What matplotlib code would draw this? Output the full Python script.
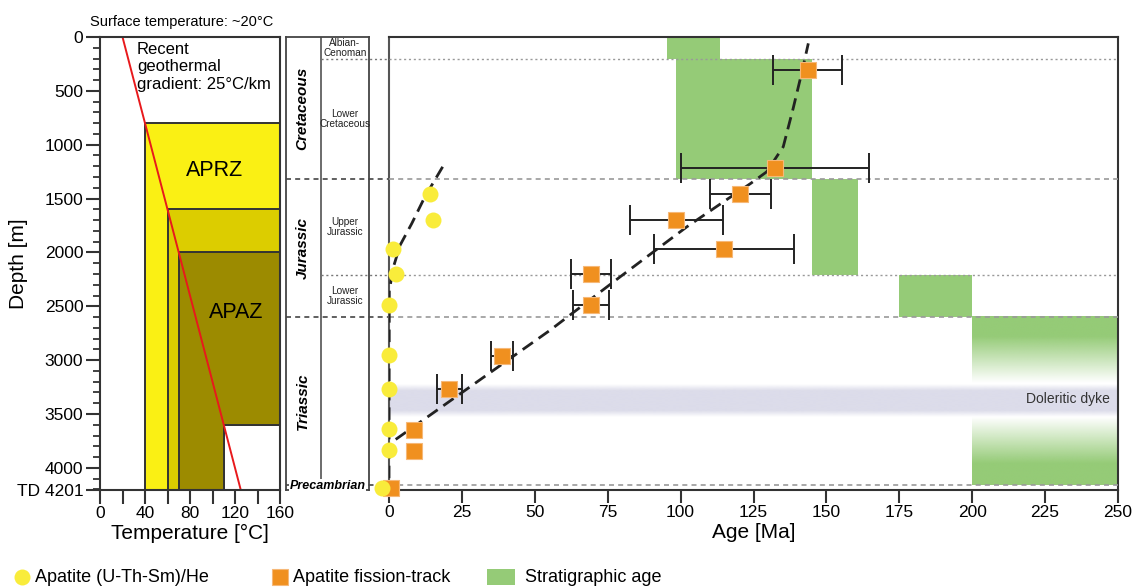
import numpy as np
import matplotlib
matplotlib.use("Agg")
import matplotlib.pyplot as plt
from matplotlib.patches import Polygon, Rectangle
from matplotlib.lines import Line2D

plt.rcParams['font.family'] = ['Liberation Sans', 'DejaVu Sans']

# geothermal gradient
surface_temp = 20
gradient = 25  # degC / km
td_depth = 4201

# annealing / retention zones (temperature, depth outlines)
aprz_temp = [40, 160, 160, 110, 110, 40]
aprz_depth = [800, 800, 3600, 3600, 4201, 4201]
mid_temp = [60, 160, 160, 110, 110, 60]
mid_depth = [1600, 1600, 3600, 3600, 4201, 4201]
apaz_temp = [70, 160, 160, 110, 110, 70]
apaz_depth = [2000, 2000, 3600, 3600, 4201, 4201]

# apatite (U-Th-Sm)/He
ahe_age = [14.1, 15.2, 1.3, 2.4, 0.0, 0.0, 0.0, 0.0, 0.0, -2.5]
ahe_depth = [1462, 1700, 1964, 2200, 2490, 2955, 3271, 3643, 3832, 4188]

# apatite fission track (last three have no error bars)
aft_age = [143.6, 132.4, 120.4, 98.4, 115.0, 69.3, 69.3, 38.6, 20.6, 8.7, 8.7, 0.6]
aft_depth = [307, 1215, 1459, 1701, 1964, 2203, 2490, 2962, 3271, 3646, 3845, 4188]
aft_min = [131.8, 100.1, 110.1, 82.6, 90.9, 62.4, 63.0, 35.0, 16.4]
aft_max = [155.5, 164.6, 130.9, 114.4, 139.0, 76.0, 75.4, 42.4, 24.9]

# trend lines
ahe_trend_age = [18.4, 12.3, 7.8, 3.8, 1.7, 0.1, 0.0]
ahe_trend_depth = [1205, 1484, 1732, 1933, 2119, 2351, 4160]
aft_trend_age = [2.3, 55.2, 79.2, 102.1, 116.4, 124.0, 129.5, 135.2, 138.6, 141.5, 143.8]
aft_trend_depth = [3736, 2723, 2228, 1763, 1499, 1360, 1252, 1019, 663, 337, 59]

# stratigraphy
epochs = ['Albian-\nCenoman', 'Lower\nCretaceous', 'Upper\nJurassic', 'Lower\nJurassic']
epoch_top = [0, 200, 1320, 2210]
epoch_base = [200, 1320, 2210, 2600]
periods = ['Cretaceous', 'Jurassic', 'Triassic']
period_top = [0, 1320, 2600]
period_base = [1320, 2600, 4160]
strat_young = [95.5, 98.5, 145, 175]
strat_old = [113.5, 145, 161, 200]
triassic_age = [200, 250]
epoch_lines = [200, 2210]
period_lines = [1320, 2600, 4160]
dyke_top, dyke_base = 3225, 3525

dark = '#333333'
green = '#95cb77'

fig = plt.figure(figsize=(11.4, 5.88), dpi=100)
W, H = 1140, 588
bot = 1 - 489.5 / H
hgt = 452.5 / H
ax1 = fig.add_axes([100 / W, bot, 180 / W, hgt])
ax2 = fig.add_axes([286 / W, bot, 83 / W, hgt])
ax3 = fig.add_axes([389 / W, bot, 729 / W, hgt])

# ---- temperature panel
ax1.add_patch(Polygon(list(zip(aprz_temp, aprz_depth)), closed=True, fc='#faf014', ec=dark, lw=1.4))
ax1.add_patch(Polygon(list(zip(mid_temp, mid_depth)), closed=True, fc='#dccd00', ec=dark, lw=1.4))
ax1.add_patch(Polygon(list(zip(apaz_temp, apaz_depth)), closed=True, fc='#9c8b00', ec=dark, lw=1.4))
d = np.array([0, td_depth])
ax1.plot(surface_temp + gradient * d / 1000, d, color='#e8191c', lw=1.4)
ax1.set_xlim(0, 160)
ax1.set_ylim(td_depth, 0)
ax1.set_xticks(range(0, 161, 20))
ax1.set_xticklabels(['0', '', '40', '', '80', '', '120', '', '160'])
ax1.set_yticks(list(range(0, 4001, 500)) + [td_depth])
ax1.set_yticklabels([str(v) for v in range(0, 4001, 500)] + ['TD 4201'])
ax1.set_yticks(range(0, 4201, 100), minor=True)
ax1.tick_params(axis='both', which='major', length=10, width=1.5, color=dark, labelsize=12.5, pad=2)
ax1.tick_params(axis='y', which='minor', length=5, width=1.3, color=dark)
ax1.set_xlabel('Temperature [°C]', fontsize=15, labelpad=2)
ax1.set_ylabel('Depth [m]', fontsize=15)
ax1.yaxis.set_label_coords(-0.4, 0.5)
for s in ax1.spines.values():
    s.set_linewidth(1.5)
    s.set_color(dark)
ax1.text(33, 46, 'Recent\ngeothermal\ngradient: 25°C/km', fontsize=12, va='top', linespacing=1.2)
ax1.text(102, 1236, 'APRZ', fontsize=15.5, ha='center', va='center')
ax1.text(121, 2556, 'APAZ', fontsize=15.5, ha='center', va='center')
fig.text(90 / W, 1 - 22 / H, 'Surface temperature: ~20°C', fontsize=10.5, va='center')

# ---- stratigraphic column
ax2.set_xlim(0, 1)
ax2.set_ylim(td_depth, 0)
ax2.set_xticks([])
ax2.set_yticks([])
for s in ax2.spines.values():
    s.set_linewidth(1.3)
    s.set_color('#444444')
ax2.plot([0.42, 0.42], [0, 4160], color='#444444', lw=1.1)
for name, t, b in zip(epochs, epoch_top, epoch_base):
    ax2.text(0.71, (t + b) / 2, name, fontsize=7.2, ha='center', va='center', color='#222222', linespacing=1.0)
for name, t, b in zip(periods, period_top, period_base):
    ax2.text(0.2, (t + b) / 2, name, fontsize=11, rotation=90, style='italic', weight='bold', ha='center', va='center')
for y in epoch_lines:
    ax2.plot([0.42, 1.24], [y, y], ls=(0, (1.5, 2)), color='#777777', lw=1, clip_on=False)
for y in period_lines:
    ax2.plot([0, 1.24], [y, y], ls=(0, (3, 2.5)), color='#444444', lw=1.2, clip_on=False)
ax2.text(0.5, 4164, 'Precambrian', fontsize=9, style='italic', weight='bold', ha='center', va='center',
         bbox=dict(fc='white', ec='none', pad=0.3))

# ---- age panel
for x0, x1, t, b in zip(strat_young, strat_old, epoch_top, epoch_base):
    ax3.add_patch(Rectangle((x0, t), x1 - x0, b - t, fc=green, ec='none', zorder=1))

gy = np.linspace(period_top[2], period_base[2], 400)
galpha = np.interp(gy, [2600, 2785, 3215, 3530, 3960, 4160], [1, 1, 0, 0, 1, 1])
gimg = np.zeros((len(gy), 1, 4))
gimg[:, 0, :3] = matplotlib.colors.to_rgb(green)
gimg[:, 0, 3] = galpha
ax3.imshow(gimg, extent=(triassic_age[0], triassic_age[1], period_base[2], period_top[2]),
           aspect='auto', interpolation='bilinear', zorder=1)

dy = np.linspace(dyke_top, dyke_base, 200)
dalpha = np.interp(dy, [dyke_top, dyke_top + 60, dyke_base - 60, dyke_base], [0, 1, 1, 0])
dimg = np.zeros((len(dy), 1, 4))
dimg[:, 0, :3] = matplotlib.colors.to_rgb('#dcdcea')
dimg[:, 0, 3] = dalpha
ax3.imshow(dimg, extent=(0, 250, dyke_base, dyke_top), aspect='auto', interpolation='bilinear', zorder=2)
ax3.text(247.3, 3364, 'Doleritic dyke', fontsize=10, ha='right', va='center', color='#333333', zorder=3)

for y in epoch_lines:
    ax3.axhline(y, ls=(0, (1.5, 2)), color='#999999', lw=1, zorder=3)
for y in period_lines:
    ax3.axhline(y, ls=(0, (3, 2.5)), color='#999999', lw=1.2, zorder=3)

ax3.plot(ahe_trend_age, ahe_trend_depth, color='#222222', lw=2, ls=(0, (4.5, 2.5)), zorder=4)
ax3.plot(aft_trend_age, aft_trend_depth, color='#222222', lw=2, ls=(0, (4.5, 2.5)), zorder=4)

n = len(aft_min)
aft_age_e = np.array(aft_age[:n])
xerr = [aft_age_e - np.array(aft_min), np.array(aft_max) - aft_age_e]
ax3.errorbar(aft_age[:n], aft_depth[:n], xerr=xerr, fmt='none', ecolor='#222222', elinewidth=1.4,
             capsize=11, capthick=1.4, zorder=5)
ax3.plot(aft_age, aft_depth, 's', ms=11, mfc='#f0901f', mec='#f6b878', mew=0.8, zorder=6, clip_on=False)
ax3.plot(ahe_age, ahe_depth, 'o', ms=11.5, mfc='#f9ec3b', mec='none', zorder=7, clip_on=False)

ax3.set_xlim(0, 250)
ax3.set_ylim(td_depth, 0)
ax3.set_xticks(range(0, 251, 25))
ax3.set_yticks([])
ax3.tick_params(axis='x', length=9, width=1.5, color=dark, labelsize=12.5, pad=2)
ax3.set_xlabel('Age [Ma]', fontsize=15, labelpad=2)
for s in ax3.spines.values():
    s.set_linewidth(1.5)
    s.set_color(dark)
ax3.spines['left'].set_color('#555555')

# ---- legend
ly = 1 - 577 / H
fig.add_artist(Line2D([22 / W], [ly], marker='o', ms=11.5, mfc='#f9ec3b', mec='none', transform=fig.transFigure))
fig.text(35 / W, ly, 'Apatite (U-Th-Sm)/He', fontsize=13, va='center')
fig.add_artist(Line2D([280 / W], [ly], marker='s', ms=11, mfc='#f0901f', mec='#f6b878', mew=0.8, transform=fig.transFigure))
fig.text(293 / W, ly, 'Apatite fission-track', fontsize=13, va='center')
fig.add_artist(Rectangle((487 / W, ly - 8 / H), 28 / W, 16 / H, fc=green, ec='none', transform=fig.transFigure))
fig.text(525 / W, ly, 'Stratigraphic age', fontsize=13, va='center')

plt.savefig('out.png', dpi=100)
